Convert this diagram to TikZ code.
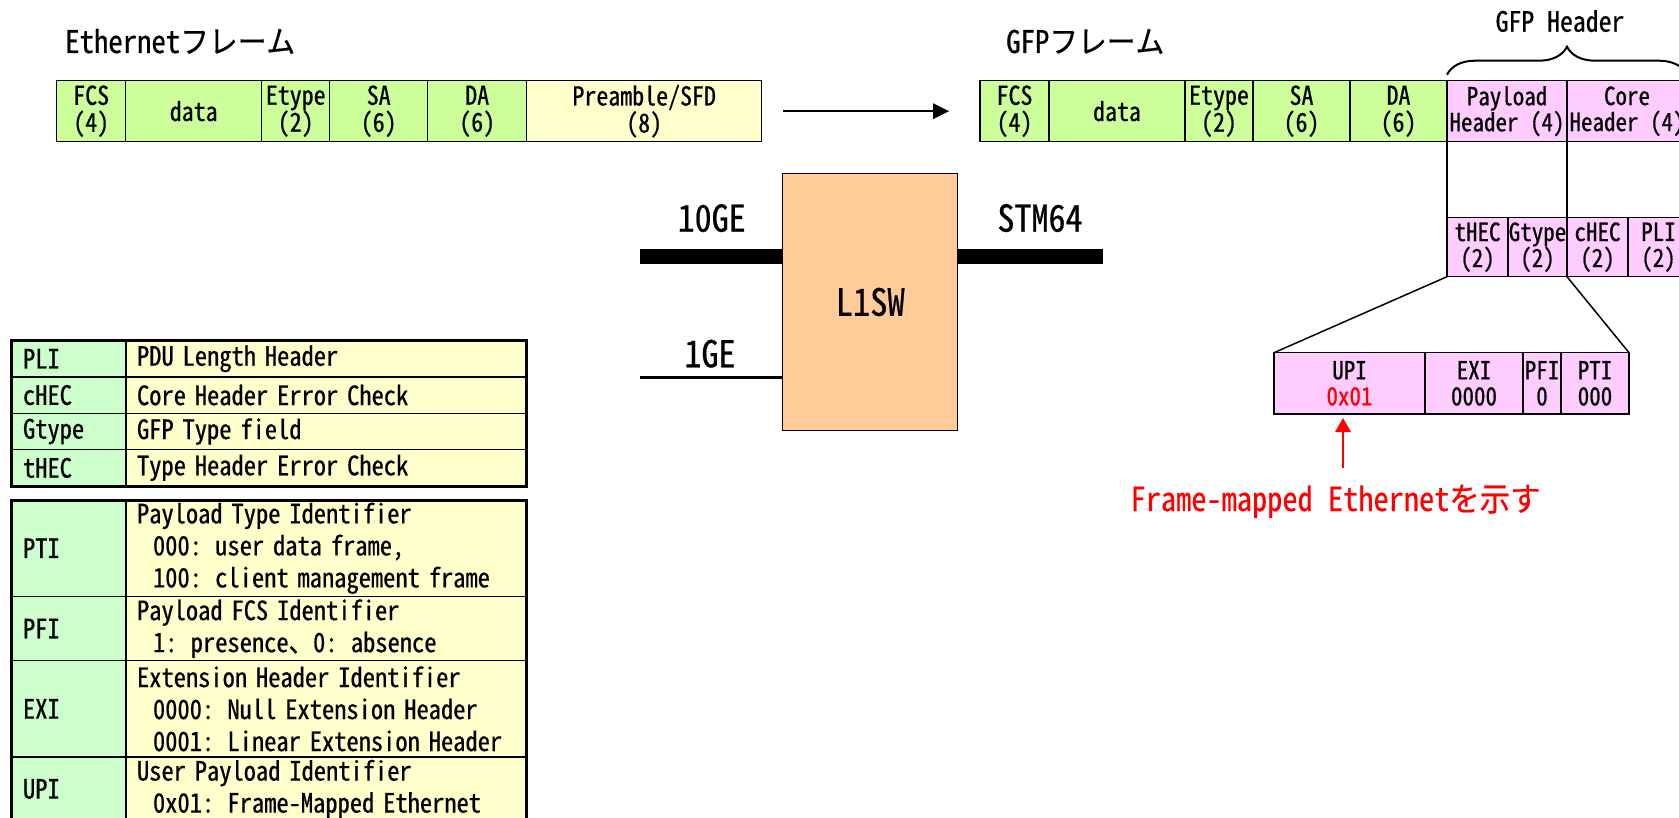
\documentclass[tikz,border=0pt]{standalone}
\usepackage{fontspec}
\setmainfont{Noto Sans Mono CJK JP}[FakeStretch=0.92, FakeBold=0.6]
\usepackage{xcolor}
\usepackage{tikz}
\usetikzlibrary{
  arrows.meta,
  positioning,
  fit,
  decorations.pathreplacing
}
\definecolor{gfpGreen}{HTML}{CCFF99}
\definecolor{gfpYellow}{HTML}{FFFFCC}
\definecolor{gfpPink}{HTML}{FFCCFF}
\definecolor{gfpMint}{HTML}{CCFFCC}
\definecolor{gfpPeach}{HTML}{FFCC99}
\definecolor{gfpRed}{HTML}{FF0000}
\tikzset{
  fldnode/.style={
    draw, line width=1.5pt, inner sep=0pt, outer sep=0pt, minimum height=61pt,
    align=center, font={\fontsize{26}{27}\selectfont}
  },
  ethfld/.style={fldnode, fill=gfpGreen},
  prefld/.style={fldnode, fill=gfpYellow},
  hdrfld/.style={fldnode, fill=gfpPink, font={\fontsize{25}{26}\selectfont}},
  title/.style={inner sep=0pt, font={\fontsize{31.25}{32}\selectfont}},
  bracelbl/.style={inner sep=0pt, font={\fontsize{28}{30}\selectfont}},
  portlbl/.style={inner sep=0pt, font={\fontsize{37}{38}\selectfont}},
  swbox/.style={draw, line width=1.5pt, fill=gfpPeach, minimum width=175pt,
    minimum height=257.4pt, font={\fontsize{37.5}{38}\selectfont}},
  keycell/.style={draw, line width=1.5pt, fill=gfpMint, outer sep=0pt,
    inner xsep=12pt, inner ysep=0pt, text width=91pt, align=left,
    font={\fontsize{26.6}{32}\selectfont}},
  desccell/.style={draw, line width=1.5pt, fill=gfpYellow, outer sep=0pt,
    inner xsep=11pt, inner ysep=0pt, text width=378pt, align=left,
    font={\fontsize{26.6}{32}\selectfont}},
  tblframe/.style={draw, line width=3pt, inner sep=0pt},
  flow/.style={-{Triangle[length=16pt, width=15.5pt]}, line width=2pt},
  redflow/.style={-{Triangle[length=14pt, width=15.5pt]}, line width=2pt, gfpRed},
  redtxt/.style={inner sep=0pt, text=gfpRed, font={\fontsize{33}{34}\selectfont}},
  link/.style={line width=1.5pt},
  trunk/.style={line width=15.3pt},
  access/.style={line width=3.7pt},
  brace/.style={decorate, decoration={brace, amplitude=28pt}, line width=2pt}
}
\begin{document}
\begin{tikzpicture}[x=1pt, y=-1pt, node distance=0pt]
  \useasboundingbox (0,0) rectangle (1679,818);

  % titles
  \node[title, anchor=base west] (ethtitle) at (65,53) {Ethernetフレーム};
  \node[title, anchor=base west] (gfptitle) at (1006,53) {GFPフレーム};

  % Ethernet frame
  \node[ethfld, minimum width=69pt, anchor=north west] (ethfcs) at (56.7,80.7) {FCS\\(4)};
  \node[ethfld, minimum width=136pt, right=of ethfcs] (ethdata) {data};
  \node[ethfld, minimum width=68pt, right=of ethdata] (ethetype) {Etype\\(2)};
  \node[ethfld, minimum width=98pt, right=of ethetype] (ethsa) {SA\\(6)};
  \node[ethfld, minimum width=99pt, right=of ethsa] (ethda) {DA\\(6)};
  \node[prefld, minimum width=235pt, right=of ethda] (ethpre) {Preamble/SFD\\(8)};

  % GFP frame
  \node[ethfld, minimum width=69pt, anchor=north west] (gfpfcs) at (980,80.7) {FCS\\(4)};
  \node[ethfld, minimum width=136pt, right=of gfpfcs] (gfpdata) {data};
  \node[ethfld, minimum width=68pt, right=of gfpdata] (gfpetype) {Etype\\(2)};
  \node[ethfld, minimum width=97pt, right=of gfpetype] (gfpsa) {SA\\(6)};
  \node[ethfld, minimum width=97pt, right=of gfpsa] (gfpda) {DA\\(6)};
  \node[hdrfld, minimum width=120pt, right=of gfpda] (gfpph) {Payload\\Header (4)};
  \node[hdrfld, minimum width=120pt, right=of gfpph] (gfpch) {Core\\Header (4)};

  \draw[flow, shorten <=21pt, shorten >=31pt] (ethpre) -- (gfpfcs);

  \draw[brace] ([yshift=6pt]gfpph.north west) -- ([yshift=6pt]gfpch.north east);
  \node[bracelbl, anchor=base] (gfphdr) at (1560,31.7) {GFP Header};

  % header fields
  \node[hdrfld, minimum width=61pt, minimum height=59pt, anchor=north west] (thec) at (1447,217.7) {tHEC\\(2)};
  \node[hdrfld, minimum width=59pt, minimum height=59pt, right=of thec] (gtype) {Gtype\\(2)};
  \node[hdrfld, minimum width=61pt, minimum height=59pt, right=of gtype] (chec) {cHEC\\(2)};
  \node[hdrfld, minimum width=61pt, minimum height=59pt, right=of chec] (pli) {PLI\\(2)};

  \node[hdrfld, minimum width=151pt, minimum height=61.3pt, anchor=north west] (upi) at (1274,352.7) {UPI\\\textcolor{gfpRed}{0x01}};
  \node[hdrfld, minimum width=98pt, minimum height=61.3pt, right=of upi] (exi) {EXI\\0000};
  \node[hdrfld, minimum width=38pt, minimum height=61.3pt, right=of exi] (pfi) {PFI\\0};
  \node[hdrfld, minimum width=68pt, minimum height=61.3pt, right=of pfi] (pti) {PTI\\000};

  \draw[link] (gfpph.south west) -- (thec.north west);
  \draw[link] (gfpch.south west) -- (chec.north west);
  \draw[link] (thec.south west) -- (upi.north west);
  \draw[link] (chec.south west) -- (pti.north east);

  \node[redtxt, anchor=base] (fmetxt) at (1335.5,511) {Frame-mapped Ethernetを示す};
  \draw[redflow, shorten <=16pt, shorten >=4pt] ([xshift=7.5pt]fmetxt.north) -- ([xshift=-6.5pt]upi.south);

  % L1SW
  \node[swbox] (lsw) at (870.2,302) {L1SW};
  \coordinate (in10ge) at (640,256.7);
  \coordinate (in1ge) at (640,377.5);
  \coordinate (outstm) at (1103,256.7);
  \draw[trunk] (in10ge) -- (in10ge -| lsw.west);
  \draw[trunk] (lsw.east |- outstm) -- (outstm);
  \draw[access] (in1ge) -- (in1ge -| lsw.west);
  \node[portlbl, anchor=base] (lbl10ge) at (711.7,231.7) {10GE};
  \node[portlbl, anchor=base] (lbl1ge) at (710,367.3) {1GE};
  \node[portlbl, anchor=base] (lblstm) at (1040,231.7) {STM64};

  % header legend
  \node[keycell, minimum height=36.4pt, anchor=north west] (tpli) at (11,340.5) {PLI};
  \node[desccell, minimum height=36.4pt, right=of tpli] (tplid) {PDU Length Header};
  \node[keycell, minimum height=36.4pt, below=of tpli] (tchec) {cHEC};
  \node[desccell, minimum height=36.4pt, right=of tchec] (tchecd) {Core Header Error Check};
  \node[keycell, minimum height=36.4pt, below=of tchec] (tgtype) {Gtype};
  \node[desccell, minimum height=36.4pt, right=of tgtype] (tgtyped) {GFP Type field};
  \node[keycell, minimum height=36.4pt, below=of tgtype] (tthec) {tHEC};
  \node[desccell, minimum height=36.4pt, right=of tthec] (tthecd) {Type Header Error Check};
  \node[tblframe, fit=(tpli)(tthecd)] (tbla) {};

  % type legend
  \node[keycell, minimum height=96.4pt, anchor=north west] (tpti) at (11,500) {PTI};
  \node[desccell, minimum height=96.4pt, right=of tpti] (tptid) {Payload Type Identifier\\\hspace*{16pt}000: user data frame,\\\hspace*{16pt}100: client management frame};
  \node[keycell, minimum height=64.3pt, below=of tpti] (tpfi) {PFI};
  \node[desccell, minimum height=64.3pt, right=of tpfi] (tpfid) {Payload FCS Identifier\\\hspace*{16pt}1: presence、0: absence};
  \node[keycell, minimum height=96.3pt, below=of tpfi] (texi) {EXI};
  \node[desccell, minimum height=96.3pt, right=of texi] (texid) {Extension Header Identifier\\\hspace*{16pt}0000: Null Extension Header\\\hspace*{16pt}0001: Linear Extension Header};
  \node[keycell, minimum height=64pt, below=of texi] (tupi) {UPI};
  \node[desccell, minimum height=64pt, right=of tupi] (tupid) {User Payload Identifier\\\hspace*{16pt}0x01: Frame-Mapped Ethernet};
  \node[tblframe, fit=(tpti)(tupid)] (tblb) {};
\end{tikzpicture}
\end{document}
